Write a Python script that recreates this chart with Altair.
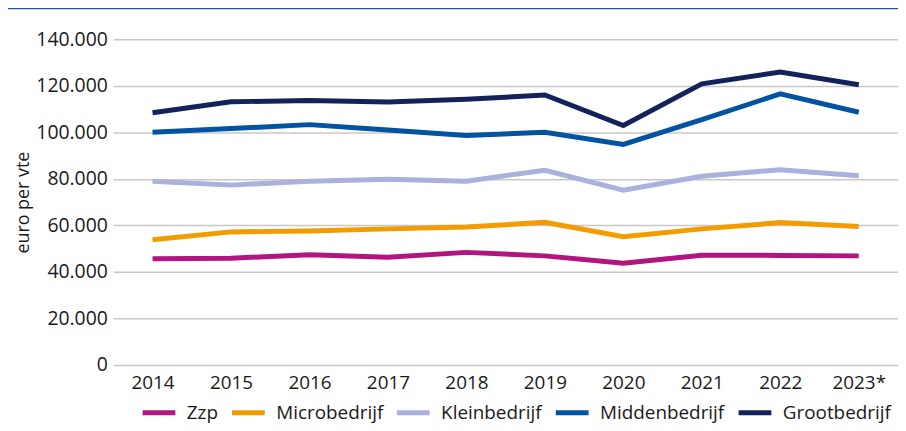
import altair as alt
import pandas as pd

years = ["2014", "2015", "2016", "2017", "2018", "2019", "2020", "2021", "2022", "2023*"]
zzp = [45700, 45900, 47400, 46300, 48400, 46900, 43700, 47200, 47100, 46900]
micro = [53800, 57200, 57600, 58500, 59300, 61300, 55100, 58500, 61200, 59500]
klein = [79000, 77300, 79000, 79800, 79000, 83700, 75100, 81100, 83900, 81300]
midden = [100000, 101600, 103300, 101000, 98600, 100000, 94800, 105400, 116500, 108600]
groot = [108400, 113100, 113700, 113000, 114200, 116000, 102900, 120800, 125900, 120400]

series = ["Zzp", "Microbedrijf", "Kleinbedrijf", "Middenbedrijf", "Grootbedrijf"]
colors = ["#b2157f", "#f39c00", "#a9b1dc", "#0253a2", "#14225b"]
values = [zzp, micro, klein, midden, groot]

rows = []
for s, vals in zip(series, values):
    for y, v in zip(years, vals):
        rows.append({"jaar": y, "waarde": v, "reeks": s})
df = pd.DataFrame(rows)

W, H = 790, 328
FONT = "Open Sans"
TXT = "#1a1a1a"

lines = alt.Chart(df).mark_line(strokeWidth=5, strokeCap="butt", strokeJoin="miter").encode(
    x=alt.X("jaar:O", sort=years, title=None,
            axis=alt.Axis(labelAngle=0, domain=False, ticks=False, labelPadding=9,
                          labelFont=FONT, labelFontSize=19, labelColor=TXT)),
    y=alt.Y("waarde:Q", scale=alt.Scale(domain=[0, 140000]), title="euro per vte",
            axis=alt.Axis(values=[0, 20000, 40000, 60000, 80000, 100000, 120000, 140000],
                          labelExpr="datum.value == 0 ? '0' : format(datum.value/1000, 'd') + '.000'",
                          domain=False, ticks=False, labelPadding=6, gridColor="#c8c8c8",
                          gridWidth=1.5, labelFont=FONT, labelFontSize=19.5,
                          labelColor=TXT, titleFont=FONT, titleFontSize=18,
                          titleFontWeight="normal", titleColor=TXT, titlePadding=3)),
    color=alt.Color("reeks:N", sort=series, title=None,
                    scale=alt.Scale(domain=series, range=colors),
                    legend=alt.Legend(orient="none", direction="horizontal", legendX=27, legendY=H + 29,
                                      symbolType="stroke", symbolStrokeWidth=5, symbolSize=1089,
                                      labelFont=FONT, labelFontSize=19,
                                      labelColor=TXT, columnPadding=3, labelOffset=9)),
)

topline = alt.Chart(pd.DataFrame({"a": [0]})).mark_rule(color="#1a56a6", strokeWidth=1.5).encode(
    x=alt.value(-106), x2=alt.value(W + 2), y=alt.value(-31)
)

chart = alt.layer(lines, topline).properties(
    width=W, height=H,
    padding={"left": 106, "top": 30, "right": 0, "bottom": 62},
    autosize=alt.AutoSizeParams(type="none"),
).configure_view(stroke=None).configure_axis(grid=True).configure_axisX(grid=False)

chart.save("out.html", embed_options={"renderer": "svg", "actions": False})
